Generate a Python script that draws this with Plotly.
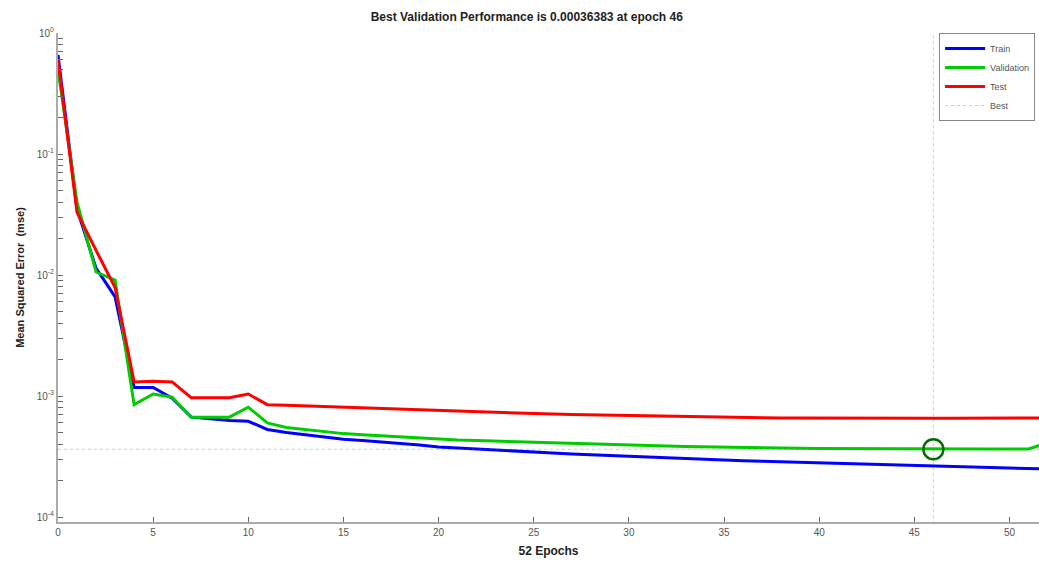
import plotly.graph_objects as go

epochs = list(range(0, 53))

train = [0.66, 0.035, 0.0114, 0.0066, 0.00118, 0.00118, 0.00096, 0.00067, 0.00065, 0.00063,
         0.00062, 0.00053, 0.00050, 0.00048, 0.00046, 0.00044, 0.00043, 0.00042, 0.00041, 0.000395,
         0.00038, 0.000372, 0.000365, 0.000358, 0.000351, 0.000345, 0.000339, 0.000333, 0.000328, 0.000323,
         0.000318, 0.000313, 0.000309, 0.000305, 0.000301, 0.000297, 0.000293, 0.00029, 0.000287, 0.000284,
         0.000281, 0.000278, 0.000275, 0.000272, 0.000269, 0.000266, 0.000263, 0.000261, 0.000258, 0.000256,
         0.000254, 0.000252, 0.00025]
validation = [0.50, 0.040, 0.0106, 0.0091, 0.00085, 0.00104, 0.00098, 0.00067, 0.00067, 0.00067,
              0.00081, 0.00060, 0.00055, 0.00053, 0.00051, 0.00049, 0.00048, 0.00047, 0.00046, 0.00045,
              0.00044, 0.000435, 0.00043, 0.000425, 0.00042, 0.000415, 0.00041, 0.000405, 0.0004, 0.000397,
              0.000394, 0.00039, 0.000387, 0.000384, 0.000381, 0.000379, 0.000377, 0.000375, 0.000373, 0.000371,
              0.00037, 0.000369, 0.000368, 0.000367, 0.000366, 0.000365, 0.00036383, 0.000364, 0.000364, 0.000365,
              0.000365, 0.000366, 0.00041]
test = [0.60, 0.033, 0.016, 0.0079, 0.00131, 0.00133, 0.00131, 0.00097, 0.00097, 0.00097,
        0.00104, 0.00085, 0.00084, 0.00083, 0.00082, 0.00081, 0.0008, 0.00079, 0.00078, 0.00077,
        0.00076, 0.00075, 0.00074, 0.00073, 0.00072, 0.000715, 0.00071, 0.000705, 0.0007, 0.000695,
        0.00069, 0.000685, 0.00068, 0.000675, 0.00067, 0.000668, 0.000665, 0.000663, 0.00066, 0.00066,
        0.000658, 0.000657, 0.000656, 0.000655, 0.000655, 0.000655, 0.000655, 0.000655, 0.000655, 0.000656,
        0.000657, 0.000658, 0.00066]

best_epoch = 46
best_perf = 0.00036383

x_ticks = [0, 5, 10, 15, 20, 25, 30, 35, 40, 45, 50]
decades = [1e-4, 1e-3, 1e-2, 1e-1, 1]
decade_labels = ["10<sup>-4</sup>", "10<sup>-3</sup>", "10<sup>-2</sup>", "10<sup>-1</sup>", "10<sup>0</sup>"]
y_minor = [m * d for d in [1e-4, 1e-3, 1e-2, 1e-1] for m in range(2, 10)]
y_tickvals = decades + y_minor
y_ticktext = decade_labels + [""] * len(y_minor)

font = "Liberation Sans, Arial, sans-serif"
best_color = "rgba(0,190,0,0.35)"

fig = go.Figure()
fig.add_trace(go.Scatter(x=epochs, y=train, mode="lines", name="Train",
                         line=dict(color="rgb(0,0,255)", width=3)))
fig.add_trace(go.Scatter(x=epochs, y=validation, mode="lines", name="Validation",
                         line=dict(color="rgb(0,204,0)", width=3)))
fig.add_trace(go.Scatter(x=epochs, y=test, mode="lines", name="Test",
                         line=dict(color="rgb(255,0,0)", width=3)))
fig.add_trace(go.Scatter(x=[0, 60], y=[best_perf, best_perf], mode="lines", name="Best",
                         line=dict(color=best_color, width=1, dash="dot")))
fig.add_trace(go.Scatter(x=[best_epoch, best_epoch], y=[1e-5, 10], mode="lines",
                         showlegend=False,
                         line=dict(color=best_color, width=1, dash="dot")))
fig.add_trace(go.Scatter(x=[best_epoch], y=[best_perf], mode="markers", showlegend=False,
                         marker=dict(symbol="circle-open", size=20, color="rgb(0,110,0)",
                                     line=dict(width=2.5, color="rgb(0,110,0)"))))

fig.update_layout(
    width=1039, height=563,
    margin=dict(l=58, r=0, t=33, b=41),
    paper_bgcolor="white", plot_bgcolor="white",
    font=dict(family=font, color="#444"),
    title=dict(text="<b>Best Validation Performance is 0.00036383 at epoch 46</b>",
               x=0.507, xanchor="center", y=0.97, yanchor="middle",
               font=dict(size=12, color="#222")),
    legend=dict(x=0.996, xanchor="right", y=1.0, yanchor="top",
                bgcolor="white", bordercolor="#888", borderwidth=1,
                font=dict(size=9, color="#555"), itemwidth=40,
                tracegroupgap=0),
    xaxis=dict(range=[0, 51.55], tickvals=x_ticks, ticks="inside", ticklen=5,
               tickcolor="#666", showgrid=False, zeroline=False,
               showline=True, linecolor="#aaa", linewidth=2,
               tickfont=dict(size=10, color="#555"),
               title=dict(text="<b>52 Epochs</b>", font=dict(size=12, color="#222"), standoff=10)),
    yaxis=dict(type="log", range=[-4.04, 0.0], tickmode="array", tickvals=y_tickvals,
               ticktext=y_ticktext,
               ticks="inside", ticklen=5, tickwidth=1, tickcolor="#666", showgrid=False,
               zeroline=False, showline=True, linecolor="#aaa", linewidth=2,
               tickfont=dict(size=10, color="#555"),
               title=dict(text="<b>Mean Squared Error  (mse)</b>", font=dict(size=11, color="#222"),
                          standoff=10)),
)

fig.write_html("out.html")
